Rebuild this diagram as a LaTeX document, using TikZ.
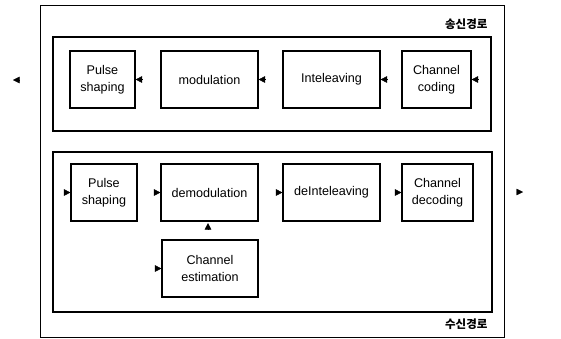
\documentclass[tikz,border=0pt]{standalone}
\usepackage{fontspec}
\setmainfont{Liberation Sans}
\newfontfamily\krfont{Noto Sans CJK KR}
\usetikzlibrary{arrows.meta}
\begin{document}
\begin{tikzpicture}[x=1pt,y=-1pt,
  blk/.style={draw,line width=1.1pt,minimum height=57pt,align=center,font=\fontsize{12.6}{17.5}\selectfont,inner sep=0pt},
  frame/.style={draw,line width=0.9pt},
  tip/.style={-{Triangle[length=6.5pt,width=6.5pt]},line width=0.4pt},
  lbl/.style={font=\krfont\bfseries\fontsize{11.5}{13}\selectfont}]
\useasboundingbox (0,0) rectangle (561,338);
% outer and inner frames
\node[frame,minimum width=464pt,minimum height=332pt,inner sep=0pt] (outer) at (272,171) {};
\node[frame,line width=1.1pt,minimum width=438pt,minimum height=94pt,inner sep=0pt] (tx) at (272,84) {};
\node[frame,line width=1.1pt,minimum width=439pt,minimum height=160pt,inner sep=0pt] (rx) at (272.5,232) {};
\node[lbl,anchor=east] (txl) at (491,24) {송신경로};
\node[lbl,anchor=east] (rxl) at (491,324) {수신경로};
% transmit path
\node[blk,minimum width=65pt] (ps1) at (102.5,79.5) {Pulse\\shaping};
\node[blk,minimum width=97pt] (mod) at (209.5,79.5) {modulation};
\node[blk,minimum width=97pt] (il) at (331.5,79.5) {Inteleaving};
\node[blk,minimum width=69pt] (cc) at (436.5,79.5) {Channel\\coding};
\coordinate (txout) at (13,80);
\coordinate (txin) at (479,80);
\draw[tip] ([xshift=6.5pt]ps1.east) -- (ps1.east);
\draw[tip] ([xshift=6.5pt]mod.east) -- (mod.east);
\draw[tip] ([xshift=6.5pt]il.east) -- (il.east);
\draw[tip] ([xshift=6.5pt]cc.east) -- (cc.east);
\draw[tip] ([xshift=6.5pt]txout) -- (txout);
% receive path
\node[blk,minimum width=66pt] (ps2) at (104,192.5) {Pulse\\shaping};
\node[blk,minimum width=97pt] (dem) at (209.5,192.5) {demodulation};
\node[blk,minimum width=97pt] (dil) at (331.5,192.5) {deInteleaving};
\node[blk,minimum width=71pt] (cd) at (437.5,192.5) {Channel\\decoding};
\node[blk,minimum width=96pt] (ce) at (210,268.5) {Channel\\estimation};
\coordinate (rxout) at (523,192);
\draw[tip] ([xshift=-6.5pt]ps2.west) -- (ps2.west);
\draw[tip] ([xshift=-6.5pt]dem.west) -- (dem.west);
\draw[tip] ([xshift=-6.5pt]dil.west) -- (dil.west);
\draw[tip] ([xshift=-6.5pt]cd.west) -- (cd.west);
\draw[tip] ([xshift=-6.5pt]ce.west) -- (ce.west);
\draw[tip] ([xshift=-1.5pt,yshift=-8pt]dem.south) -- ([xshift=-1.5pt,yshift=-1.5pt]dem.south);
\draw[tip] ([xshift=-6.5pt]rxout) -- (rxout);
\end{tikzpicture}
\end{document}
